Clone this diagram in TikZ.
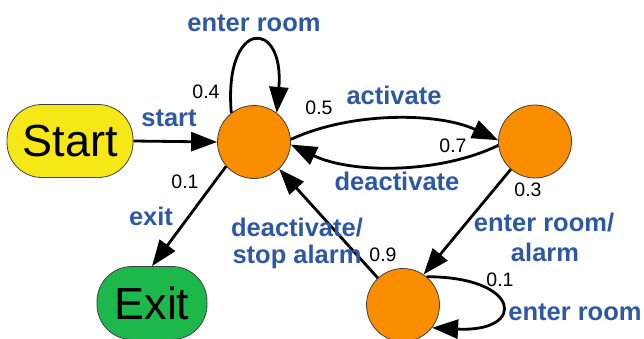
\documentclass[tikz,border=0pt]{standalone}
\usepackage{fontspec}
\setmainfont{Liberation Sans}
\usetikzlibrary{arrows.meta}
\definecolor{stOrange}{RGB}{250,142,0}
\definecolor{stYellow}{RGB}{245,232,22}
\definecolor{stGreen}{RGB}{28,184,76}
\definecolor{lblBlue}{RGB}{44,88,164}
\tikzset{
  state/.style={circle, fill=stOrange, draw=black!75, line width=0.8pt, minimum size=73pt, inner sep=0pt},
  term/.style={rectangle, rounded corners=35pt, draw=black!75, line width=0.8pt, inner sep=0pt, font=\fontsize{45}{50}\selectfont},
  edge/.style={line width=2.8pt, -{Triangle[length=26pt,width=19pt]}},
  lbl/.style={text=lblBlue, font=\fontsize{25.5}{29}\bfseries\selectfont, inner sep=0pt, align=center},
  prob/.style={text=black, font=\fontsize{19.5}{22}\selectfont, inner sep=0pt}
}
\begin{document}
\begin{tikzpicture}[x=1pt,y=-1pt]
\useasboundingbox (0,0) rectangle (644,338);
\node[term, fill=stYellow, minimum width=126pt, minimum height=73pt] (start) at (70,141) {Start};
\node[term, fill=stGreen, minimum width=110pt, minimum height=73pt] (exit) at (152,303) {Exit};
\node[state] (A) at (254,142) {};
\node[state] (B) at (535,141.5) {};
\node[state] (C) at (403,305) {};

\draw[edge] (start.east) -- (A.west);
\draw[edge] (A.128) .. controls +(-8,-95) and +(8,-95) .. (A.52);
\draw[edge] (A.4) .. controls +(60,-28) and +(-60,-28) .. (B.178);
\draw[edge] (B.186) .. controls +(-60,29) and +(60,29) .. (A.356);
\draw[edge] (B.229) -- (C.56);
\draw[edge] (C.133) -- (A.313);
\draw[edge] (A.221) -- (exit.north);
\draw[edge] (C.50) .. controls +(95,0) and +(95,5) .. (C.322);

\node[lbl] (l1) at (254,23) {enter room};
\node[lbl] (l2) at (169,118) {start};
\node[lbl] (l3) at (394,95) {activate};
\node[lbl] (l4) at (397,181) {deactivate};
\node[lbl] (l5) at (151,216) {exit};
\node[lbl] (l6) at (297,228) {deactivate/};
\node[lbl] (l7) at (297,257) {stop alarm};
\node[lbl] (l8) at (544,223) {enter room/};
\node[lbl] (l9) at (545,252) {alarm};
\node[lbl] (l10) at (575,312) {enter room};

\node[prob] (p1) at (206,92) {0.4};
\node[prob] (p2) at (319,108) {0.5};
\node[prob] (p3) at (453,146) {0.7};
\node[prob] (p4) at (528,190) {0.3};
\node[prob] (p5) at (185,182) {0.1};
\node[prob] (p6) at (383,255) {0.9};
\node[prob] (p7) at (500,280) {0.1};
\end{tikzpicture}
\end{document}
